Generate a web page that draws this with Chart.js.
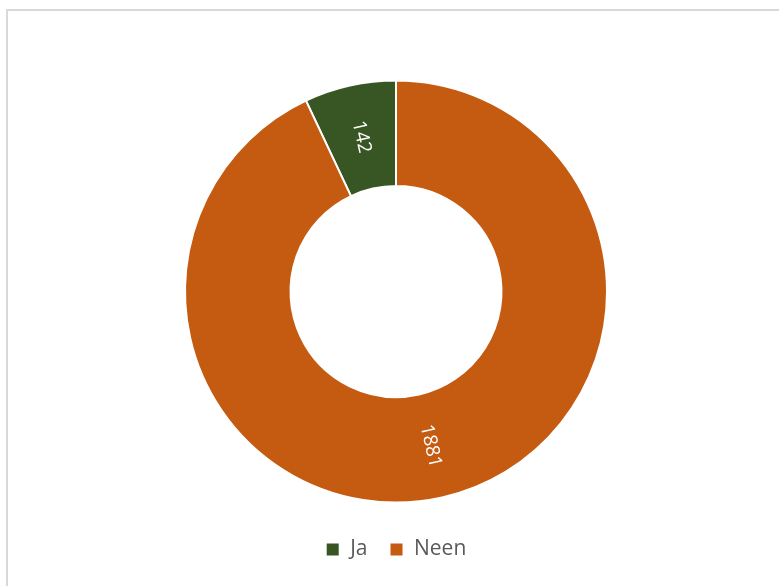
<!DOCTYPE html>
<html>
<head>
<meta charset="utf-8">
<script src="https://cdn.jsdelivr.net/npm/chart.js@4"></script>
<style>
  html, body { margin: 0; padding: 0; background: #fff; }
  #frame { position: absolute; left: 6px; top: 9px; width: 790px; height: 600px;
           border-top: 2px solid #d9d9d9; border-left: 2px solid #d9d9d9; }
  #wrap { position: absolute; left: 0; top: 0; width: 779px; height: 586px; }
</style>
</head>
<body>
<div id="frame"></div>
<div id="wrap"><canvas id="chart1" width="779" height="586"></canvas></div>
<script>
var labels = ['Ja', 'Neen'];
var values = [142, 1881];
var colors = ['#375623', '#c55a11'];

// labels sit in the middle of the ring, turned along the radius
var ringLabels = {
    id: 'ringLabels',
    afterDatasetsDraw: function (chart) {
        var ctx = chart.ctx;
        var meta = chart.getDatasetMeta(0);
        meta.data.forEach(function (arc, i) {
            var p = arc.getProps(['x', 'y', 'startAngle', 'endAngle', 'innerRadius', 'outerRadius'], true);
            var mid = (p.startAngle + p.endAngle) / 2;
            var r = (p.innerRadius + p.outerRadius) / 2;
            var rot = mid;
            while (rot > Math.PI / 2) rot -= Math.PI;
            while (rot < -Math.PI / 2) rot += Math.PI;
            ctx.save();
            ctx.translate(p.x + Math.cos(mid) * r, p.y + Math.sin(mid) * r);
            ctx.rotate(rot);
            ctx.fillStyle = '#ffffff';
            ctx.font = '19px "Open Sans"';
            ctx.textAlign = 'center';
            ctx.textBaseline = 'middle';
            ctx.fillText(String(values[i]), 0, 0);
            ctx.restore();
        });
    }
};

var total = values.reduce(function (a, b) { return a + b; }, 0);

var ctx1 = document.getElementById('chart1').getContext('2d');
var chart1 = new Chart(ctx1, {
    type: 'doughnut',
    data: {
        labels: labels,
        datasets: [{
            data: values,
            backgroundColor: colors,
            borderColor: '#ffffff',
            borderWidth: 2
        }]
    },
    options: {
        responsive: false,
        animation: false,
        cutout: '50%',
        rotation: -values[0] / total * 360,
        layout: { padding: { left: 184, right: 171, top: 66, bottom: 16 } },
        plugins: {
            tooltip: { enabled: false },
            legend: {
                position: 'bottom',
                labels: {
                    boxWidth: 14,
                    boxHeight: 14,
                    padding: 22,
                    color: '#595959',
                    font: { family: 'Open Sans', size: 21 }
                }
            }
        }
    },
    plugins: [ringLabels]
});
</script>
</body>
</html>
